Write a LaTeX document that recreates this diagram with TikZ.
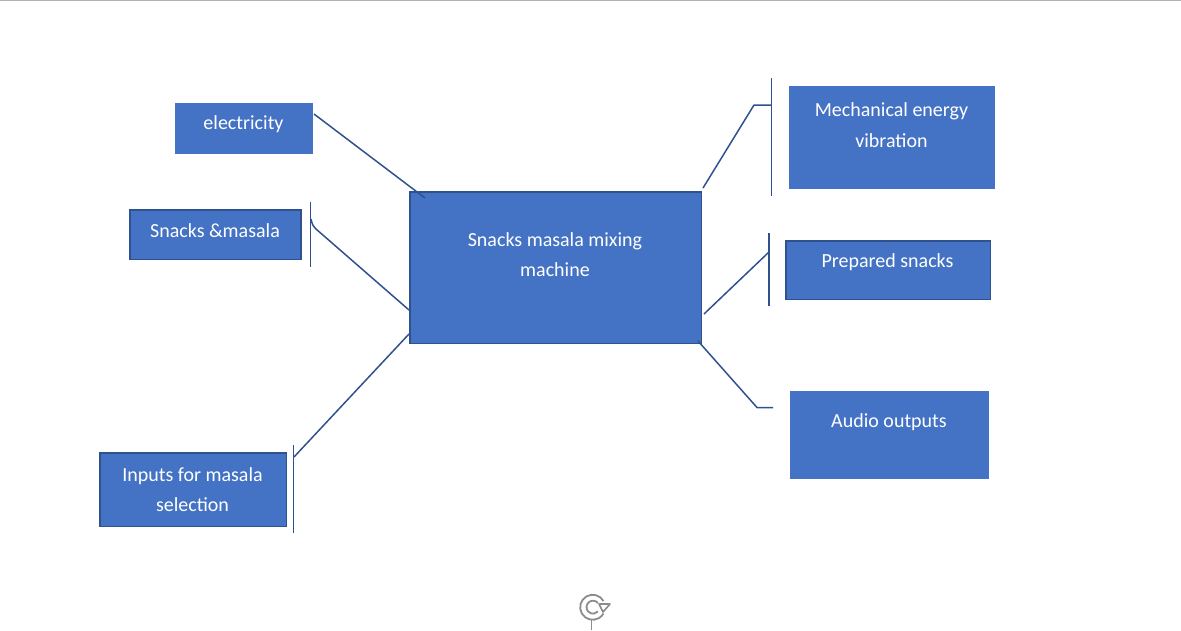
\documentclass[tikz,border=0pt]{standalone}
\usepackage{fontspec}
\setmainfont{Carlito}
\definecolor{boxblue}{HTML}{4472C4}
\definecolor{boxline}{HTML}{2F528F}
\definecolor{iconcol}{HTML}{8C8C8C}
\tikzset{
	plainbox/.style={fill=boxblue, draw=none, rectangle, inner sep=0pt},
	edgebox/.style={plainbox, draw=boxline, line width=1.5pt},
	boxtext/.style={text=white, align=center, font=\fontsize{20}{30.5}\selectfont, inner sep=0pt},
	conn/.style={draw=boxline, line width=1.5pt, line join=round},
}
\begin{document}
\begin{tikzpicture}[x=1pt,y=-1pt]
\useasboundingbox (0,0) rectangle (1181,630);
\draw[color=gray!60, line width=1.2pt] (0,0.6) -- (1181,0.6);

% boxes
\node[plainbox, minimum width=138pt, minimum height=51pt] (elec) at (244,128.5) {};
\node[edgebox, minimum width=171pt, minimum height=49.5pt] (snack) at (215.5,234.5) {};
\node[edgebox, minimum width=186.5pt, minimum height=73.5pt] (inp) at (193,489.5) {};
\node[edgebox, minimum width=291.5pt, minimum height=151.5pt] (main) at (555.5,267.5) {};
\node[plainbox, minimum width=206pt, minimum height=103pt] (mech) at (892,137.5) {};
\node[edgebox, minimum width=204.5pt, minimum height=58.5pt] (prep) at (888,270) {};
\node[plainbox, minimum width=199pt, minimum height=88pt] (audio) at (889.5,435) {};

% texts
\node[boxtext] (electxt) at (243.5,124) {electricity};
\node[boxtext] (snacktxt) at (215,231) {Snacks \&masala};
\node[boxtext] (inptxt) at (192.5,489.5) {Inputs for masala\\selection};
\node[boxtext] (maintxt) at (555,254.5) {Snacks masala mixing\\machine};
\node[boxtext] (mechtxt) at (891.5,125) {Mechanical energy\\vibration};
\node[boxtext] (preptxt) at (887.5,262) {Prepared snacks};
\node[boxtext] (audiotxt) at (889,422) {Audio outputs};

% free ends of the connectors
\coordinate (elecout) at (314,114);
\coordinate (mainelec) at (425,198);
\coordinate (snacktop) at (310.5,202);
\coordinate (snackbot) at (310.5,267);
\coordinate (snackin) at (311,219);
\coordinate (mainsnack) at (409,310);
\coordinate (inptop) at (293.5,445);
\coordinate (inpbot) at (293.5,533);
\coordinate (inpin) at (294,457);
\coordinate (maininp) at (409,334);
\coordinate (mechtop) at (771.5,78);
\coordinate (mechbot) at (771.5,196);
\coordinate (mainmech) at (703,188);
\coordinate (mechknee) at (754,105);
\coordinate (mechin) at (771.5,105);
\coordinate (preptop) at (769,233);
\coordinate (prepbot) at (769,306);
\coordinate (mainprep) at (704,314);
\coordinate (prepin) at (769,252);
\coordinate (mainaudio) at (698,341);
\coordinate (audioknee) at (757,407.5);
\coordinate (audioin) at (773,407.5);

% connectors
\draw[conn] (elecout) -- (mainelec);
\draw[conn] (snacktop) -- (snackbot);
\draw[conn] (snackin) .. controls (312,224) and (313,226) .. (316,229) -- (mainsnack);
\draw[conn] (inptop) -- (inpbot);
\draw[conn] (inpin) -- (maininp);
\draw[conn] (mechtop) -- (mechbot);
\draw[conn] (mainmech) -- (mechknee) -- (mechin);
\draw[conn] (preptop) -- (prepbot);
\draw[conn] (mainprep) -- (prepin);
\draw[conn] (mainaudio) -- (audioknee) -- (audioin);

% rotate handle
\draw[color=iconcol, line width=1.8pt] (603.5,601) arc (-30:-330:12.5 and 12.5);
\draw[color=iconcol, line width=1.8pt] (598,603) arc (-40:-320:6.5);
\draw[color=iconcol, line width=1.6pt, line join=round, fill=white] (599,604) -- (610,604) -- (603,612) -- cycle;
\draw[color=iconcol, line width=0.8pt] (591,619) -- (591,630);
\end{tikzpicture}
\end{document}
